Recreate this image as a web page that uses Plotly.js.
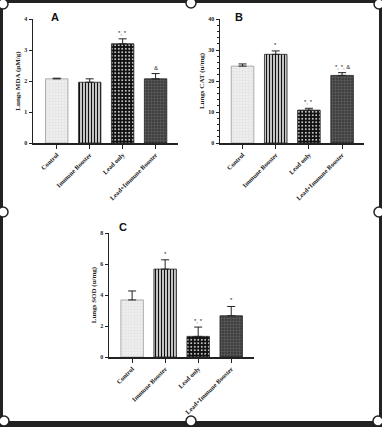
<!DOCTYPE html>
<html>
<head>
<meta charset="utf-8">
<script src="https://cdn.plot.ly/plotly-3.0.1.min.js"></script>
<style>html,body{margin:0;padding:0;background:#fff;}#chart{width:382px;height:427px;}</style>
</head>
<body>
<div id="chart"></div>
<script>
var categories = ["Control", "Immune Booster", "Lead only", "Lead+Immune Booster"];

var mdaValues = [2.07, 1.96, 3.2, 2.07];
var mdaErrors = [0.02, 0.11, 0.16, 0.17];
var mdaSig = ["", "", "*, *", "&"];

var catValues = [24.8, 28.6, 10.6, 21.8];
var catErrors = [0.7, 1.1, 0.6, 0.9];
var catSig = ["", "*", "*, *", "*, *, &"];

var sodValues = [3.68, 5.67, 1.33, 2.66];
var sodErrors = [0.58, 0.6, 0.6, 0.6];
var sodSig = ["", "*", "*, *", "*"];

var panelTitles = ["A", "B", "C"];
var yTitles = ["Lungs MDA (µM/g)", "Lungs CAT (u/mg)", "Lungs SOD (u/mg)"];

var serif = "Liberation Serif";
var dark = "#222222";

var patterns = [
  {shape: "+", bgcolor: "#eeeeee", fgcolor: "#dddddd", size: 3, solidity: 0.2, fillmode: "replace"},
  {shape: "|", bgcolor: "#ffffff", fgcolor: "#111111", size: 3, solidity: 0.5, fillmode: "replace"},
  {shape: ".", bgcolor: "#111111", fgcolor: "#ffffff", size: 3.5, solidity: 0.2, fillmode: "replace"},
  {shape: "+", bgcolor: "#404040", fgcolor: "#6a6a6a", size: 3, solidity: 0.25, fillmode: "replace"}
];
var lineColors = ["#999999", "#222222", "#222222", "#222222"];

function makeTraces(vals, errs, xa, ya) {
  var traces = [];
  for (var i = 0; i < categories.length; i++) {
    traces.push({
      type: "bar",
      x: [categories[i]],
      y: [vals[i]],
      xaxis: xa, yaxis: ya,
      width: 0.68,
      marker: {pattern: patterns[i], line: {color: lineColors[i], width: 0.8}},
      error_y: {type: "data", array: [errs[i]], arrayminus: [0], symmetric: false,
                color: dark, thickness: 1, width: 4},
      showlegend: false,
      hoverinfo: "skip"
    });
  }
  return traces;
}

var data = []
  .concat(makeTraces(mdaValues, mdaErrors, "x", "y"))
  .concat(makeTraces(catValues, catErrors, "x2", "y2"))
  .concat(makeTraces(sodValues, sodErrors, "x3", "y3"));

function xAxis(domain, range, anchor) {
  return {
    domain: domain, range: range, anchor: anchor, type: "category",
    showline: true, linecolor: dark, linewidth: 1.5,
    ticks: "outside", ticklen: 4, tickwidth: 1, tickcolor: dark,
    tickangle: -45, showgrid: false, zeroline: false,
    tickfont: {family: serif, size: 6.5, color: dark, weight: "bold"}
  };
}
function yAxis(domain, range, dtick, anchor, title, minor) {
  var ax = {
    domain: domain, range: range, anchor: anchor, dtick: dtick,
    showline: true, linecolor: dark, linewidth: 1.5,
    ticks: "outside", ticklen: 3, tickwidth: 1, tickcolor: dark,
    showgrid: false, zeroline: false,
    tickfont: {family: serif, size: 6, color: dark, weight: "bold"},
    title: {text: title, standoff: 3, font: {family: serif, size: 7, color: dark, weight: "bold"}}
  };
  if (minor) ax.minor = {ticks: "outside", ticklen: 2, tickcolor: dark, dtick: minor, showgrid: false};
  return ax;
}

var yTopDom = [1 - 143/427, 1 - 19/427];
var yBotDom = [1 - 357/427, 1 - 233/427];

var annotations = [];
function sigAnn(vals, errs, sig, xa, ya, shift) {
  for (var i = 0; i < categories.length; i++) {
    if (!sig[i]) continue;
    annotations.push({
      xref: xa, yref: ya, x: categories[i], y: vals[i] + errs[i],
      text: sig[i], showarrow: false, yanchor: "bottom", yshift: shift,
      font: {family: "Liberation Sans", size: 6, color: dark}
    });
  }
}
sigAnn(mdaValues, mdaErrors, mdaSig, "x", "y", 1);
sigAnn(catValues, catErrors, catSig, "x2", "y2", 1);
sigAnn(sodValues, sodErrors, sodSig, "x3", "y3", 1);

var panelPos = [[55/382, 1 - 17/427], [239/382, 1 - 17/427], [123/382, 1 - 227/427]];
for (var p = 0; p < 3; p++) {
  annotations.push({
    xref: "paper", yref: "paper", x: panelPos[p][0], y: panelPos[p][1],
    text: "<b>" + panelTitles[p] + "</b>", showarrow: false,
    xanchor: "center", yanchor: "middle",
    font: {family: "Liberation Sans", size: 11, color: "#111"}
  });
}

var shapes = [
  {type: "rect", xref: "paper", yref: "paper", x0: 0, x1: 1, y0: 1 - 3/427, y1: 1, fillcolor: dark, line: {width: 0}},
  {type: "rect", xref: "paper", yref: "paper", x0: 0, x1: 3/382, y0: 0, y1: 1, fillcolor: dark, line: {width: 0}},
  {type: "rect", xref: "paper", yref: "paper", x0: 379/382, x1: 1, y0: 0, y1: 1, fillcolor: dark, line: {width: 0}},
  {type: "rect", xref: "paper", yref: "paper", x0: 0, x1: 1, y0: 0, y1: 6/427, fillcolor: dark, line: {width: 0}}
];
var handles = [[3, 4], [191, 3], [379, 4], [3, 212], [379, 212], [4, 421], [191, 421], [378, 421]];
handles.forEach(function (h) {
  shapes.push({
    type: "circle", xref: "paper", yref: "paper",
    xsizemode: "pixel", ysizemode: "pixel",
    xanchor: h[0]/382, yanchor: 1 - h[1]/427,
    x0: -5, x1: 5, y0: -5, y1: 5,
    fillcolor: "#ffffff", line: {color: dark, width: 1.5}
  });
});

var layout = {
  width: 382, height: 427,
  margin: {l: 0, r: 0, t: 0, b: 0},
  paper_bgcolor: "#ffffff", plot_bgcolor: "rgba(0,0,0,0)",
  showlegend: false,
  xaxis: xAxis([33/382, 178/382], [-0.72, 3.68], "y"),
  yaxis: yAxis(yTopDom, [0, 4], 1, "x", yTitles[0], null),
  xaxis2: xAxis([220/382, 364/382], [-0.68, 3.66], "y2"),
  yaxis2: yAxis(yTopDom, [0, 40], 10, "x2", yTitles[1], 2),
  xaxis3: xAxis([109/382, 254/382], [-0.7, 3.69], "y3"),
  yaxis3: yAxis(yBotDom, [0, 8], 2, "x3", yTitles[2], null),
  annotations: annotations,
  shapes: shapes
};

Plotly.newPlot("chart", data, layout, {displayModeBar: false, staticPlot: true});
</script>
</body>
</html>
